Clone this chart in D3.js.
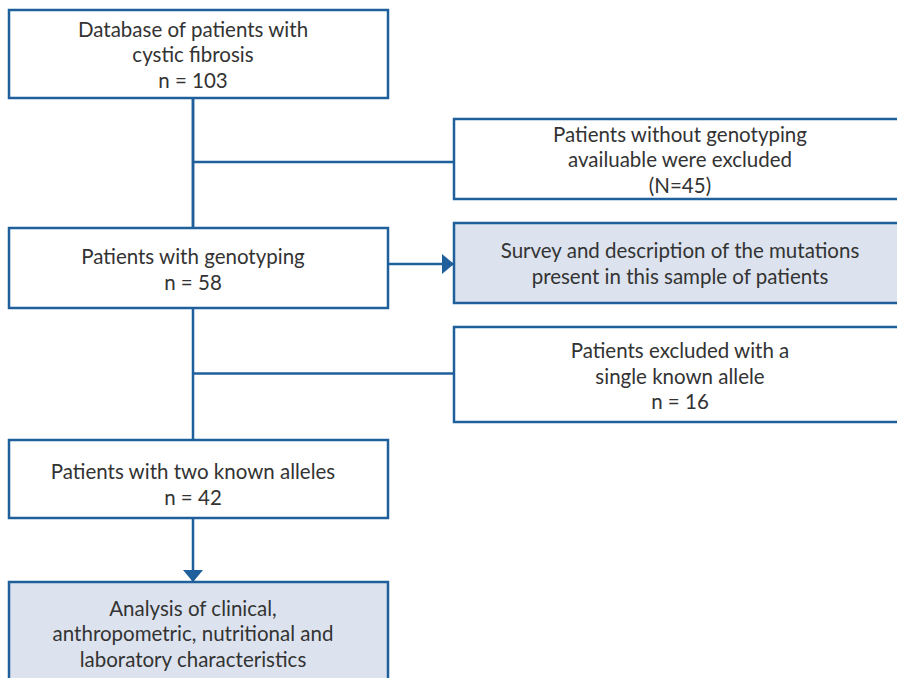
<!DOCTYPE html>
<html>
<head>
<meta charset="utf-8">
<script src="https://cdn.jsdelivr.net/npm/d3@7"></script>
<style>
  html, body { margin: 0; padding: 0; background: #fff; }
  svg { display: block; }
</style>
</head>
<body>
<div id="chart"></div>
<script>
// node labels (one entry per box)
const nodeIds = ["db", "noGeno", "geno", "survey", "single", "two", "analysis"];
const nodeLines = [
    ["Database of patients with", "cystic fibrosis", "n = 103"],
    ["Patients without genotyping", "availuable were excluded", "(N=45)"],
    ["Patients with genotyping", "n = 58"],
    ["Survey and description of the mutations", "present in this sample of patients"],
    ["Patients excluded with a", "single known allele", "n = 16"],
    ["Patients with two known alleles", "n = 42"],
    ["Analysis of clinical,", "anthropometric, nutritional and", "laboratory characteristics"]
];
const highlighted = ["survey", "analysis"];

// links between nodes
const linkFrom = ["db", "db", "geno", "geno", "two"];
const linkTo = ["noGeno", "geno", "survey", "single", "analysis"];

const width = 897, height = 678;
const stroke = "#1f5f9b", fillHi = "#dce3ee", textColor = "#333";

// layout: column and row placement, plus a small text nudge
const layout = {
    db:       { col: "L", top: 10,  h: 88,  ty: 1 },
    noGeno:   { col: "R", top: 119, h: 80,  ty: 1 },
    geno:     { col: "L", top: 228, h: 80,  ty: 2 },
    survey:   { col: "R", top: 223, h: 80,  ty: 1 },
    single:   { col: "R", top: 327, h: 95,  ty: 2 },
    two:      { col: "L", top: 440, h: 78,  ty: 6 },
    analysis: { col: "L", top: 582, h: 120, ty: -8 }
};
const colX = d3.scaleOrdinal().domain(["L", "R"]).range([9, 454]);
const colW = d3.scaleOrdinal().domain(["L", "R"]).range([379, 452]);
const colText = d3.scaleOrdinal().domain(["L", "R"]).range([193, 680]);
const trunkX = 193;

const nodes = nodeIds.map((id, i) => {
    const l = layout[id];
    return {
        id, lines: nodeLines[i],
        x: colX(l.col), y: l.top, w: colW(l.col), h: l.h,
        tx: colText(l.col), ty: l.ty,
        hi: highlighted.includes(id)
    };
});
const byId = Object.fromEntries(nodes.map(n => [n.id, n]));

const svg = d3.select("#chart").append("svg")
    .attr("width", width)
    .attr("height", height);

svg.append("defs").append("marker")
    .attr("id", "arrow")
    .attr("viewBox", "0 0 12 20")
    .attr("refX", 12).attr("refY", 10)
    .attr("markerWidth", 12).attr("markerHeight", 20)
    .attr("markerUnits", "userSpaceOnUse")
    .attr("orient", "auto")
    .append("path")
    .attr("d", "M0,0 L12,10 L0,20 Z")
    .attr("fill", stroke);

// connectors
const links = linkFrom.map((f, i) => ({ s: byId[f], t: byId[linkTo[i]] }));
links.forEach(({ s, t }) => {
    let d, arrow = false;
    if (t.x > s.x && t.y > s.y + s.h) {
        // branch off the trunk into an exclusion box (no arrow)
        const ym = t.y + t.h / 2 + (t.id === "noGeno" ? 3 : -1);
        d = `M${trunkX},${ym} H${t.x}`;
    } else if (t.x > s.x) {
        // side arrow
        const ym = s.y + s.h / 2 - 4;
        d = `M${s.x + s.w},${ym} H${t.x}`;
        arrow = true;
    } else {
        d = `M${trunkX},${s.y + s.h} V${t.y}`;
        arrow = t.hi;
    }
    svg.append("path")
        .attr("d", d)
        .attr("fill", "none")
        .attr("stroke", stroke)
        .attr("stroke-width", 2.5)
        .attr("marker-end", arrow ? "url(#arrow)" : null);
});
// the vertical trunk through the exclusion boxes
[["db", "geno"], ["geno", "two"]].forEach(([a, b]) => {
    svg.append("line")
        .attr("x1", trunkX).attr("x2", trunkX)
        .attr("y1", byId[a].y + byId[a].h).attr("y2", byId[b].y)
        .attr("stroke", stroke).attr("stroke-width", 2.5);
});

// boxes
const g = svg.selectAll(".node")
    .data(nodes)
    .enter()
    .append("g")
    .attr("class", "node");

g.append("rect")
    .attr("x", d => d.x)
    .attr("y", d => d.y)
    .attr("width", d => d.w)
    .attr("height", d => d.h)
    .attr("fill", d => d.hi ? fillHi : "#fff")
    .attr("stroke", stroke)
    .attr("stroke-width", 2.5);

const lineH = 25.5;
g.each(function(d) {
    const n = d.lines.length;
    const y0 = d.y + d.h / 2 + d.ty - (n - 1) * lineH / 2;
    d3.select(this).selectAll("text")
        .data(d.lines)
        .enter()
        .append("text")
        .attr("x", d.tx)
        .attr("y", (t, i) => y0 + i * lineH)
        .attr("dy", "0.35em")
        .attr("text-anchor", "middle")
        .attr("font-family", "Lato, 'Open Sans', sans-serif")
        .attr("font-size", "20.5px")
        .attr("fill", textColor)
        .text(t => t);
});
</script>
</body>
</html>
